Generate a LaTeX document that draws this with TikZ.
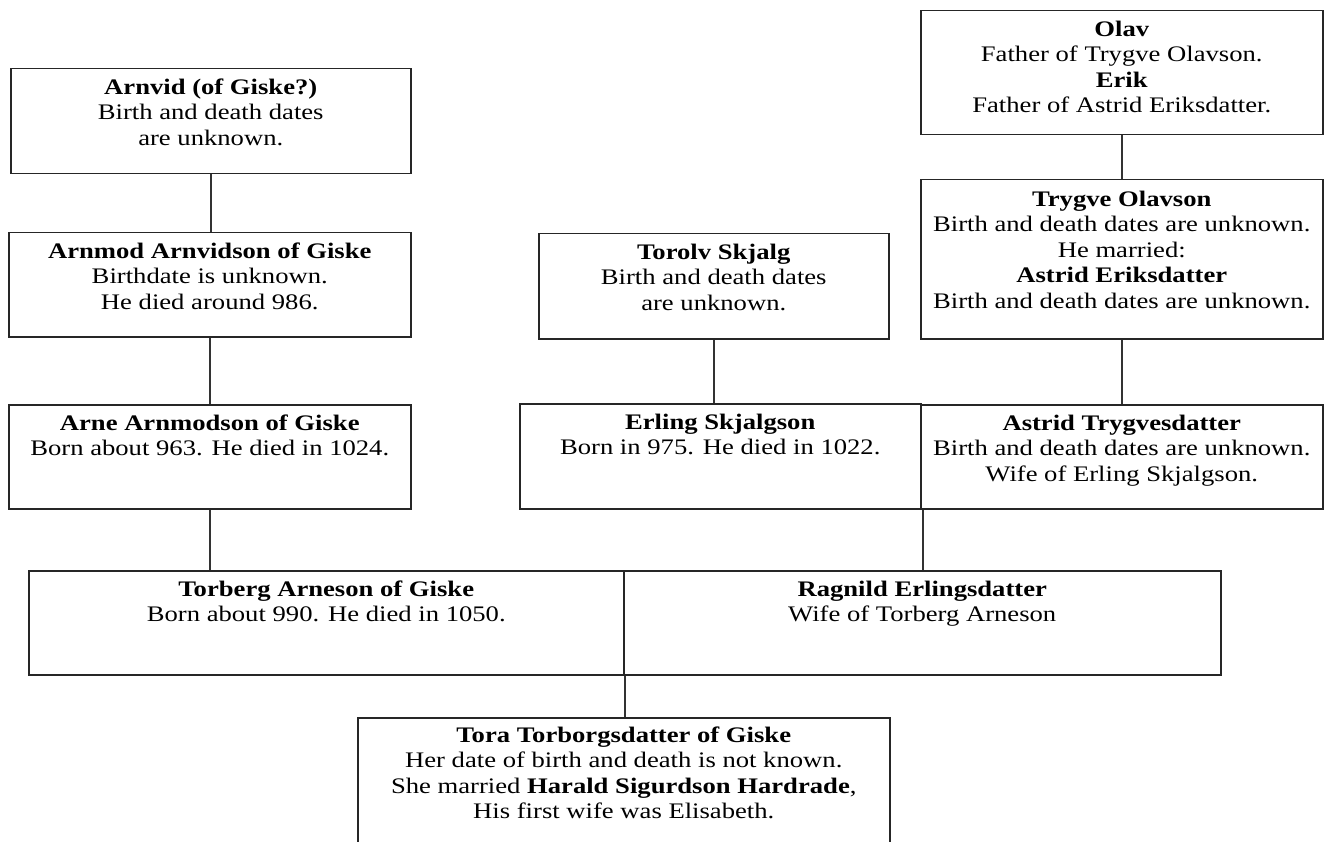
\documentclass[tikz,border=0pt]{standalone}
\usepackage{fontspec}
\setmainfont{Liberation Serif}[FakeStretch=1.2]
\begin{document}
\begin{tikzpicture}[x=1pt,y=-1pt,
  box/.style={draw=black!85, line width=1.5pt, rectangle, inner sep=0pt, anchor=north west},
  txt/.style={align=center, inner sep=0pt, anchor=north, font=\fontsize{22.2}{25.5}\selectfont},
  conn/.style={draw=black!80, line width=1.6pt}]
\useasboundingbox (0,0) rectangle (1329,842);
\clip (0,0) rectangle (1329,842);
% boxes
\node[box, minimum width=400pt, minimum height=105pt] (arnvid) at (10,68) {};
\node[box, minimum width=402pt, minimum height=104pt] (arnmod) at (8,232) {};
\node[box, minimum width=402pt, minimum height=104pt] (arne) at (8,404) {};
\node[box, minimum width=595pt, minimum height=104pt] (torberg) at (28,570) {};
\node[box, minimum width=597pt, minimum height=104pt] (ragnild) at (623,570) {};
\node[box, minimum width=532pt, minimum height=150pt] (tora) at (357,717) {};
\node[box, minimum width=350pt, minimum height=105pt] (torolv) at (538,233) {};
\node[box, minimum width=401pt, minimum height=105pt] (erling) at (519,403) {};
\node[box, minimum width=402pt, minimum height=104pt] (astrid) at (920,404) {};
\node[box, minimum width=402pt, minimum height=124pt] (olav) at (920,10) {};
\node[box, minimum width=402pt, minimum height=159pt] (trygve) at (920,179) {};
% texts
\node[txt] (arnvid-t) at ([yshift=-8pt]arnvid.north) {\strut\textbf{Arnvid (of Giske?)}\\\strut Birth and death dates\\\strut are unknown.};
\node[txt] (arnmod-t) at ([yshift=-8pt]arnmod.north) {\strut\textbf{Arnmod Arnvidson of Giske}\\\strut Birthdate is unknown.\\\strut He died around 986.};
\node[txt] (arne-t) at ([yshift=-8pt]arne.north) {\strut\textbf{Arne Arnmodson of Giske}\\\strut Born about 963. He died in 1024.};
\node[txt] (torberg-t) at ([yshift=-8pt]torberg.north) {\strut\textbf{Torberg Arneson of Giske}\\\strut Born about 990. He died in 1050.};
\node[txt] (ragnild-t) at ([yshift=-8pt]ragnild.north) {\strut\textbf{Ragnild Erlingsdatter}\\\strut Wife of Torberg Arneson};
\node[txt] (tora-t) at ([yshift=-7pt]tora.north) {\strut\textbf{Tora Torborgsdatter of Giske}\\\strut Her date of birth and death is not known.\\\strut She married \textbf{Harald Sigurdson Hardrade},\\\strut His first wife was Elisabeth.};
\node[txt] (torolv-t) at ([yshift=-8pt]torolv.north) {\strut\textbf{Torolv Skjalg}\\\strut Birth and death dates\\\strut are unknown.};
\node[txt] (erling-t) at ([yshift=-8pt]erling.north) {\strut\textbf{Erling Skjalgson}\\\strut Born in 975. He died in 1022.};
\node[txt] (astrid-t) at ([yshift=-8pt]astrid.north) {\strut\textbf{Astrid Trygvesdatter}\\\strut Birth and death dates are unknown.\\\strut Wife of Erling Skjalgson.};
\node[txt] (olav-t) at ([yshift=-8pt]olav.north) {\strut\textbf{Olav}\\\strut Father of Trygve Olavson.\\\strut\textbf{Erik}\\\strut Father of Astrid Eriksdatter.};
\node[txt] (trygve-t) at ([yshift=-9pt]trygve.north) {\strut\textbf{Trygve Olavson}\\\strut Birth and death dates are unknown.\\\strut He married:\\\strut\textbf{Astrid Eriksdatter}\\\strut Birth and death dates are unknown.};
% connectors
\draw[conn] (arnvid.south) -- (arnvid.south |- arnmod.north);
\draw[conn] (arnmod.south) -- (arnmod.south |- arne.north);
\draw[conn] (arne.south) -- (arne.south |- torberg.north);
\draw[conn] (olav.south) -- (trygve.north);
\draw[conn] (trygve.south) -- (astrid.north);
\draw[conn] (torolv.south) -- (torolv.south |- erling.north);
\coordinate (ej) at ([xshift=1.5pt]erling.south east);
\coordinate (tj) at ([xshift=0.5pt]torberg.south east);
\draw[conn] (ej) -- (ej |- ragnild.north);
\draw[conn] (tj) -- (tj |- tora.north);
\end{tikzpicture}
\end{document}
